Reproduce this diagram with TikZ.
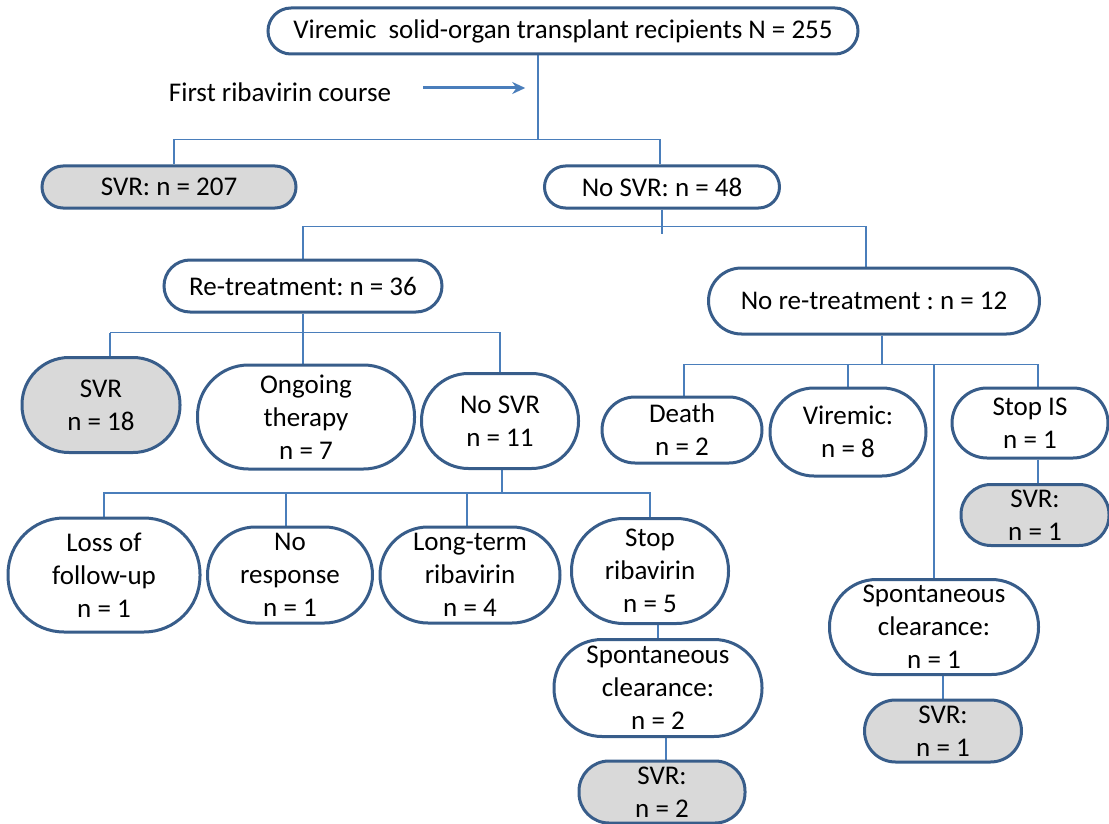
\documentclass[tikz,border=0pt]{standalone}
\usepackage{fontspec}
\setmainfont{Carlito}
\frenchspacing
\usetikzlibrary{arrows.meta,backgrounds}
\definecolor{bord}{HTML}{385D8A}
\definecolor{lineb}{HTML}{4A7EBB}
\definecolor{fillg}{HTML}{D9D9D9}
\begin{document}
\begin{tikzpicture}[x=1pt,y=-1pt,
  box/.style={draw=bord, line width=3pt, fill=white, align=center, inner sep=0pt,
    font=\fontsize{27}{33}\selectfont\frenchspacing},
  grey/.style={box, fill=fillg},
  conn/.style={draw=lineb, line width=1.3pt},
  arr/.style={draw=lineb, line width=3pt, -{Stealth[length=13pt,width=12pt]}},
]
\useasboundingbox (0,0) rectangle (1109,824);

\node[box, minimum width=590pt, minimum height=46pt, rounded corners=23pt] (top) at (563,31)
  {Viremic~ solid-organ transplant recipients N = 255};
\node[font=\fontsize{27}{33}\selectfont, inner sep=0pt] (lab) at (280,92) {First ribavirin course};

\node[grey, minimum width=254pt, minimum height=42pt, rounded corners=21pt] (svr207) at (169,187) {SVR: n = 207};
\node[box, minimum width=235pt, minimum height=42pt, rounded corners=21pt] (nosvr48) at (662,187) {No SVR: n = 48};

\node[box, minimum width=278pt, minimum height=52pt, rounded corners=26pt] (retreat) at (303,286) {Re-treatment: n = 36};
\node[box, minimum width=331pt, minimum height=66pt, rounded corners=33pt] (noretreat) at (874,301) {No re-treatment : n = 12};

\node[grey, minimum width=158pt, minimum height=95pt, rounded corners=47pt] (svr18) at (101,405) {SVR\\n = 18};
\node[box, minimum width=217pt, minimum height=104pt, rounded corners=51pt] (ongoing) at (306,417) {Ongoing\\therapy\\n = 7};
\node[box, minimum width=157pt, minimum height=95pt, rounded corners=47pt] (nosvr11) at (500,421) {No SVR\\n = 11};

\node[box, minimum width=160pt, minimum height=66pt, rounded corners=33pt] (death) at (682,430) {Death\\n = 2};
\node[box, minimum width=156pt, minimum height=88pt, rounded corners=44pt] (viremic) at (848,432) {Viremic:\\n = 8};
\node[box, minimum width=156pt, minimum height=70pt, rounded corners=35pt] (stopis) at (1030,423) {Stop IS\\n = 1};
\node[grey, minimum width=148pt, minimum height=61pt, rounded corners=30pt] (svr1a) at (1035,515) {SVR:\\n = 1};

\node[box, minimum width=192pt, minimum height=114pt, rounded corners=56pt] (loss) at (104,575) {Loss of\\follow-up\\n = 1};
\node[box, minimum width=165pt, minimum height=96pt, rounded corners=48pt] (noresp) at (290,575) {No\\response\\n = 1};
\node[box, minimum width=180pt, minimum height=96pt, rounded corners=48pt] (longterm) at (470,575) {Long-term\\ribavirin\\n = 4};
\node[box, minimum width=157pt, minimum height=105pt, rounded corners=52pt] (stoprib) at (650,571) {Stop\\ribavirin\\n = 5};
\node[box, minimum width=208pt, minimum height=97pt, rounded corners=48pt] (spont2) at (658,688) {Spontaneous\\clearance:\\n = 2};
\node[grey, minimum width=166pt, minimum height=62pt, rounded corners=30pt] (svr2) at (662,792) {SVR:\\n = 2};

\node[box, minimum width=209pt, minimum height=95pt, rounded corners=47pt] (spont1) at (934,627) {Spontaneous\\clearance:\\n = 1};
\node[grey, minimum width=157pt, minimum height=62pt, rounded corners=31pt] (svr1b) at (943,731) {SVR:\\n = 1};

\draw[arr] ([xshift=32pt,yshift=4pt]lab.east) -- ++(102,0);

\begin{scope}[on background layer]
  % level 1
  \draw[conn] ([xshift=-25pt]top.south) -- ++(0,84) coordinate (b1);
  \draw[conn] (b1) -| ([xshift=5pt]svr207.north);
  \draw[conn] (b1) -| ([xshift=-2pt]nosvr48.north);
  % level 2
  \draw[conn] (nosvr48.south) -- ++(0,24);
  \path (nosvr48.south) ++(0,17) coordinate (b2);
  \draw[conn] (b2) -| ([yshift=-6pt]retreat.north);
  \draw[conn] (b2) -| ([xshift=-8pt]noretreat.north);
  % re-treatment
  \path (retreat.south) ++(0,19) coordinate (b3);
  \draw[conn] (retreat.south) -- (retreat.south |- ongoing.north);
  \draw[conn] ([xshift=9pt]svr18.north |- b3) -- ([xshift=9pt]svr18.north);
  \draw[conn] ([xshift=9pt]svr18.north |- b3) -| (nosvr11.north);
  % no SVR n=11
  \draw[conn] ([xshift=2pt]nosvr11.south) -- ++(0,23) coordinate (b4);
  \draw[conn] (b4) -| (loss.north);
  \draw[conn] (b4) -| ([xshift=-4pt]noresp.north);
  \draw[conn] (b4) -| ([xshift=-3pt]longterm.north);
  \draw[conn] (b4) -| (stoprib.north);
  \draw[conn] (spont2.north |- stoprib.south) -- (spont2.north);
  \draw[conn] ([xshift=8pt]spont2.south) -- ([xshift=8pt]spont2.south |- svr2.north);
  % no re-treatment
  \draw[conn] ([xshift=8pt]noretreat.south) -- ++(0,29) coordinate (b5);
  \draw[conn] (b5) -| ([xshift=2pt]death.north);
  \draw[conn] (b5) -| (viremic.north);
  \draw[conn] (b5) -| (spont1.north);
  \draw[conn] (b5) -| ([xshift=8pt]stopis.north);
  \draw[conn] ([xshift=8pt]stopis.south) -- ([xshift=8pt]stopis.south |- svr1a.north);
  \draw[conn] (svr1b.north |- spont1.south) -- (svr1b.north);
\end{scope}
\end{tikzpicture}
\end{document}
